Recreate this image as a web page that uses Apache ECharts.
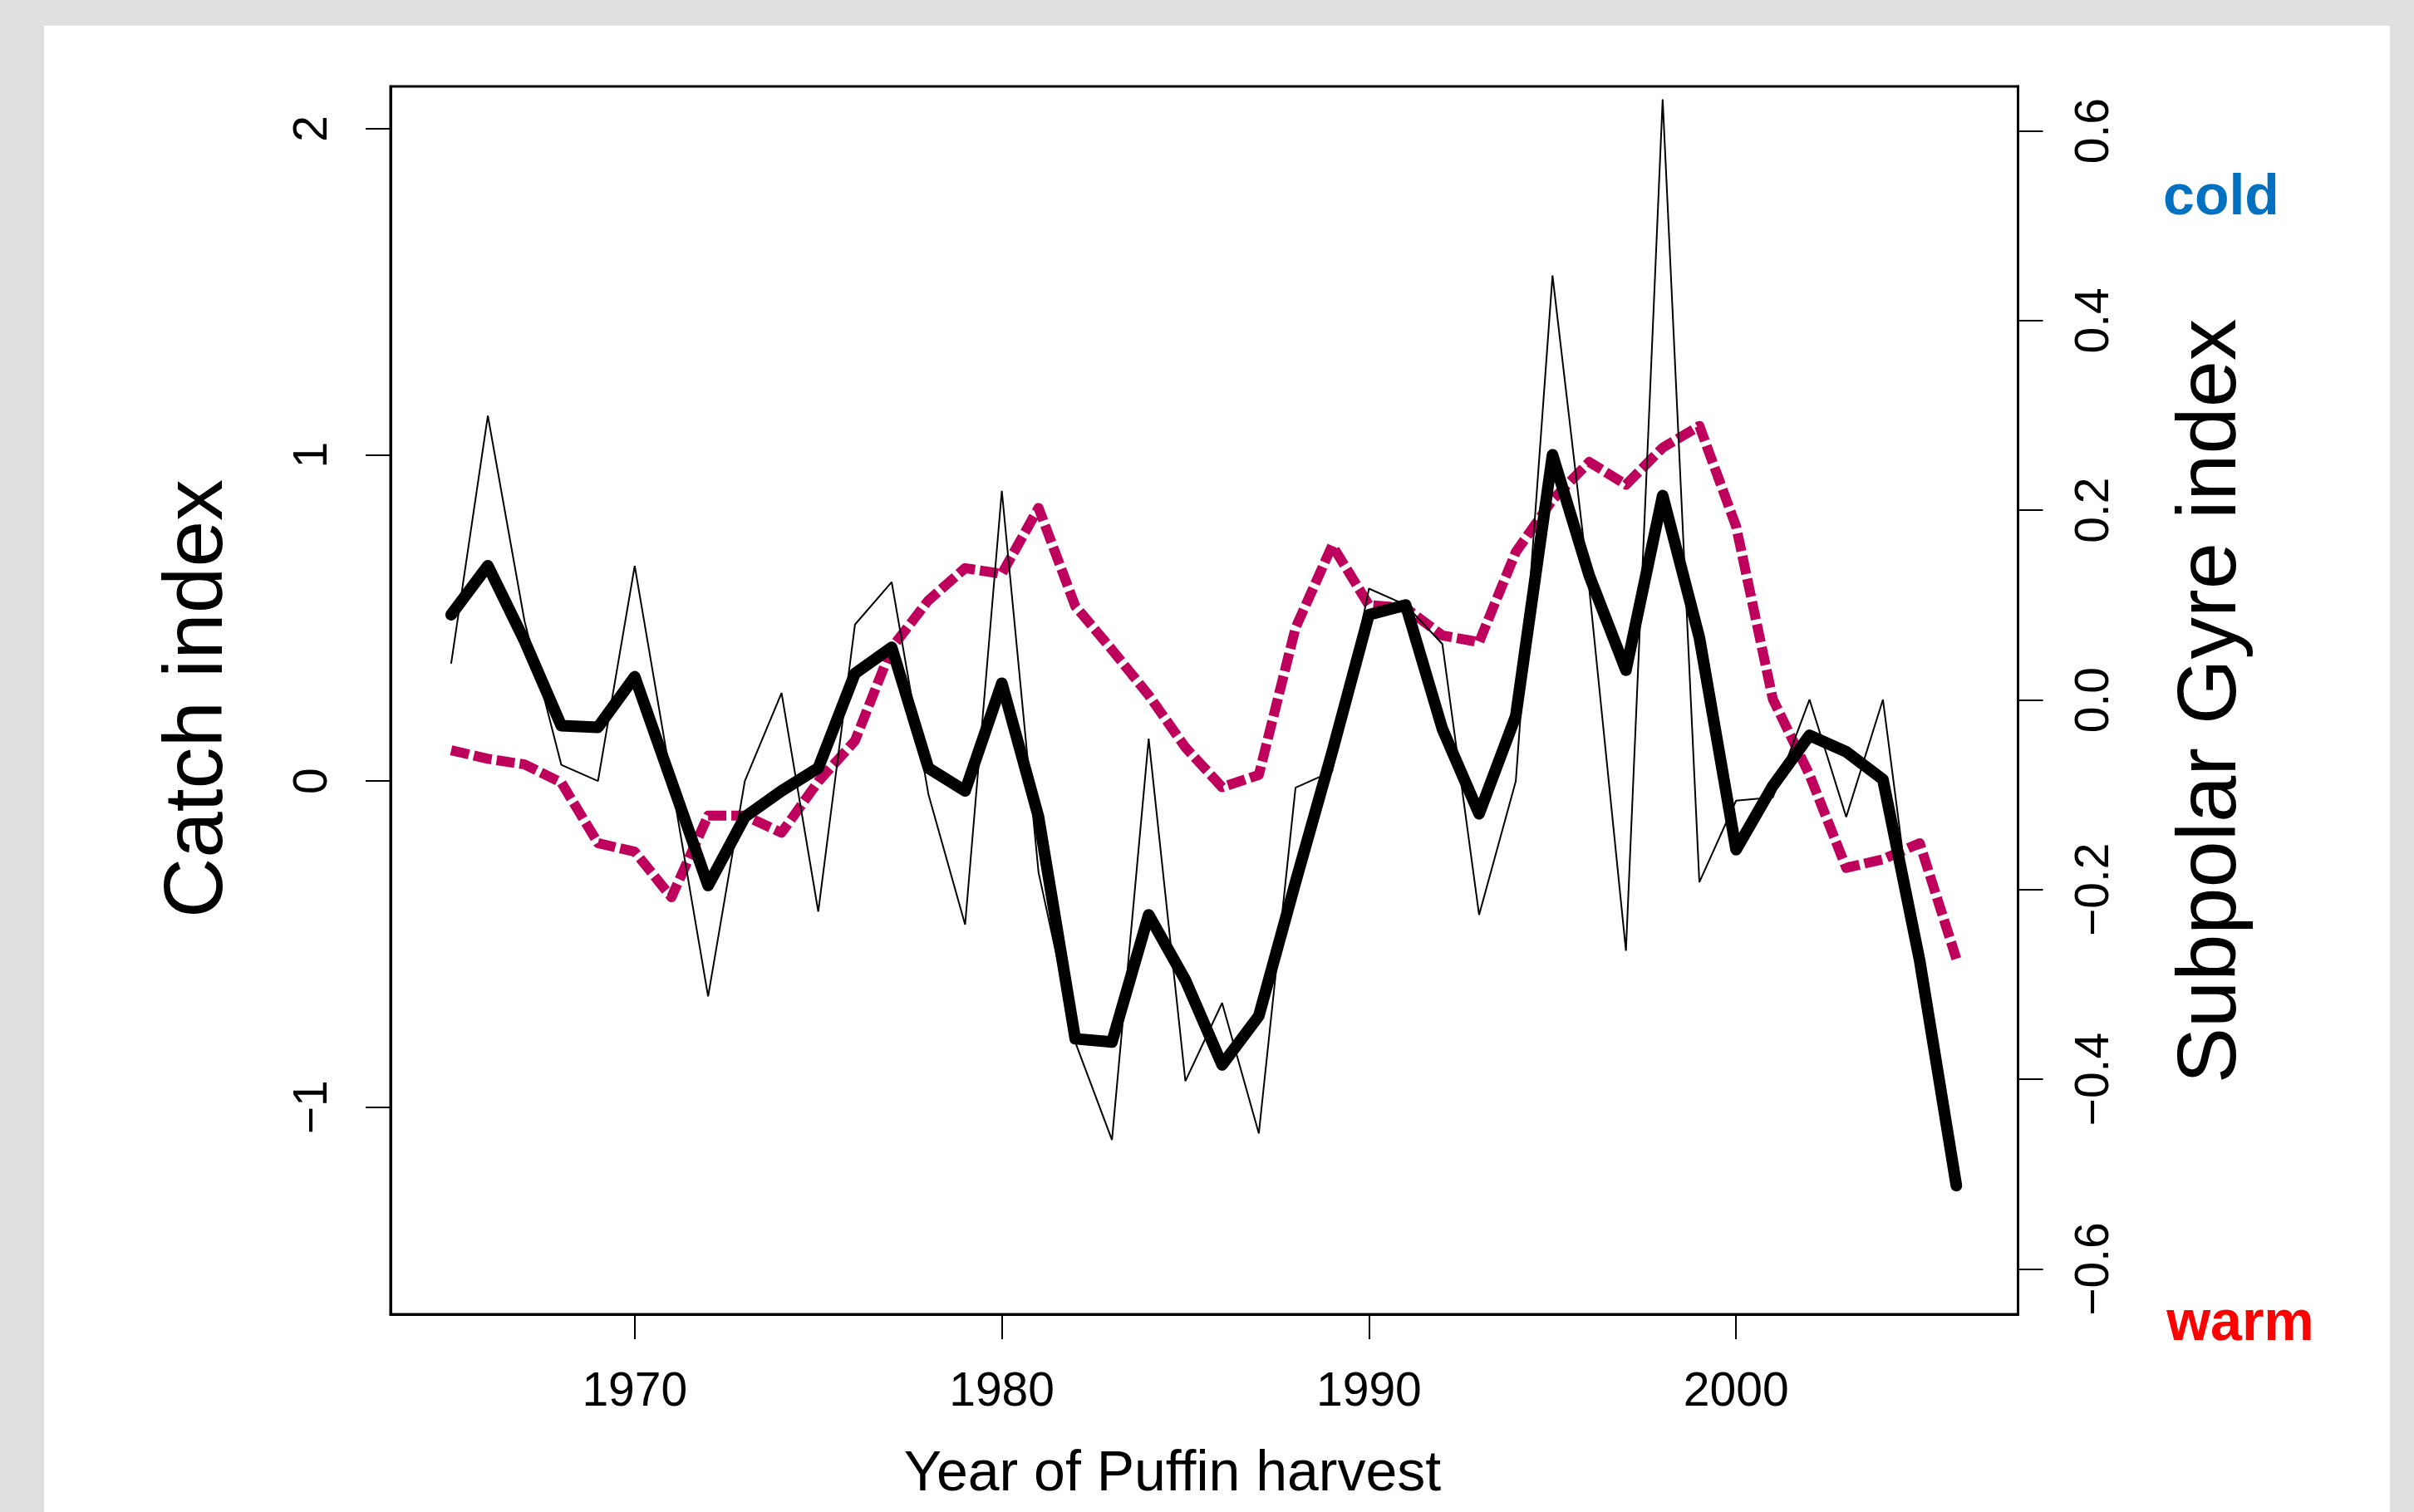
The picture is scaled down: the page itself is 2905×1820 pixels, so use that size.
<!DOCTYPE html>
<html><head><meta charset="utf-8">
<script src="https://cdn.jsdelivr.net/npm/echarts@6/dist/echarts.min.js"></script>
<style>
html,body{margin:0;padding:0;background:#e0e0e0;width:2905px;height:1820px;overflow:hidden}
#panel{position:absolute;left:53px;top:31px;width:2823px;height:1789px;background:#fff}
#chart{position:absolute;left:0;top:0;width:2905px;height:1820px}
</style></head><body><div id="panel"></div><div id="chart"></div>
<script>
const years = [1965,1966,1967,1968,1969,1970,1971,1972,1973,1974,1975,1976,1977,1978,1979,1980,1981,1982,1983,1984,1985,1986,1987,1988,1989,1990,1991,1992,1993,1994,1995,1996,1997,1998,1999,2000,2001,2002,2003,2004,2005,2006];
const catchRaw = [0.36,1.12,0.49,0.05,0.00,0.66,0.00,-0.66,0.00,0.27,-0.40,0.48,0.61,-0.04,-0.44,0.89,-0.28,-0.80,-1.10,0.13,-0.92,-0.68,-1.08,-0.02,0.03,0.59,0.54,0.42,-0.41,0.00,1.55,0.59,-0.52,2.09,-0.31,-0.06,-0.05,0.25,-0.11,0.25,-0.62,-1.24];
const catchSmooth = [0.51,0.66,0.43,0.17,0.165,0.32,0.00,-0.32,-0.11,-0.03,0.04,0.33,0.41,0.04,-0.03,0.30,-0.11,-0.79,-0.80,-0.41,-0.61,-0.87,-0.72,-0.31,0.09,0.51,0.54,0.16,-0.10,0.20,1.00,0.63,0.34,0.875,0.44,-0.21,-0.015,0.14,0.09,0.005,-0.55,-1.24];
const spgIndex = [-0.053,-0.062,-0.068,-0.087,-0.151,-0.160,-0.208,-0.122,-0.122,-0.140,-0.086,-0.043,0.055,0.105,0.139,0.133,0.2025,0.099,0.053,0.005,-0.050,-0.092,-0.079,0.076,0.163,0.100,0.097,0.068,0.061,0.156,0.211,0.251,0.227,0.266,0.289,0.183,0.001,-0.079,-0.177,-0.168,-0.151,-0.273];
const xTicks = [1970,1980,1990,2000];
const leftTicks = [-1,0,1,2];
const rightTicks = [-0.6,-0.4,-0.2,0,0.2,0.4,0.6];

const FONT = "'Liberation Sans', Arial, Helvetica, sans-serif";
const fmtMinus = (s) => s.replace('-', '\u2212');

const chart = echarts.init(document.getElementById('chart'), null, {renderer: 'canvas'});
const pair = (arr) => years.map((y, i) => [y, arr[i]]);

const option = {
  animation: false,
  backgroundColor: 'transparent',
  grid: {
    left: 470, top: 104, right: 2905 - 2428.5, bottom: 1820 - 1582,
    show: true, borderColor: '#000', borderWidth: 3, backgroundColor: 'transparent'
  },
  xAxis: {
    type: 'value', min: 1963.35, max: 2007.68,
    axisLine: {show: true, onZero: false, lineStyle: {color: '#000', width: 3}},
    axisTick: {show: true, length: 30, customValues: xTicks, lineStyle: {color: '#000', width: 2}},
    axisLabel: {customValues: xTicks, fontSize: 57, fontFamily: FONT, color: '#000', margin: 66,
      formatter: (v) => String(Math.round(v))},
    splitLine: {show: false}
  },
  yAxis: [
    {
      type: 'value', position: 'left', min: -1.6345, max: 2.1296,
      axisLine: {show: true, onZero: false, lineStyle: {color: '#000', width: 3}},
      axisTick: {show: true, length: 30, customValues: leftTicks, lineStyle: {color: '#000', width: 2}},
      axisLabel: {customValues: leftTicks, rotate: 90, fontSize: 57, fontFamily: FONT, color: '#000', margin: 64,
        formatter: (v) => fmtMinus(String(Math.round(v)))},
      splitLine: {show: false}
    },
    {
      type: 'value', position: 'right', min: -0.6478, max: 0.647,
      axisLine: {show: true, onZero: false, lineStyle: {color: '#000', width: 3}},
      axisTick: {show: true, length: 30, customValues: rightTicks, lineStyle: {color: '#000', width: 2}},
      axisLabel: {customValues: rightTicks, rotate: 90, fontSize: 57, fontFamily: FONT, color: '#000', margin: 64,
        formatter: (v) => fmtMinus((Math.round(v * 10) / 10).toFixed(1)).replace('\u22120.0', '0.0')},
      splitLine: {show: false}
    }
  ],
  series: [
    {
      name: 'Subpolar Gyre index', type: 'line', yAxisIndex: 1, data: pair(spgIndex),
      symbol: 'none', z: 2,
      lineStyle: {color: '#BE005C', width: 12, type: [22, 6], cap: 'butt', join: 'round'}
    },
    {
      name: 'Catch index', type: 'line', yAxisIndex: 0, data: pair(catchRaw),
      symbol: 'none', z: 3,
      lineStyle: {color: '#000', width: 2}
    },
    {
      name: 'Catch index (smoothed)', type: 'line', yAxisIndex: 0, data: pair(catchSmooth),
      symbol: 'none', z: 4,
      lineStyle: {color: '#000', width: 14, cap: 'round', join: 'round'}
    }
  ],
  graphic: [
    {type: 'text', x: 239, y: 841, rotation: Math.PI / 2,
      style: {text: 'Catch index', font: "100px " + FONT, fill: '#000', align: 'center', verticalAlign: 'middle'}},
    {type: 'text', x: 2662, y: 844, rotation: Math.PI / 2,
      style: {text: 'Subpolar Gyre index', font: "101px " + FONT, fill: '#000', align: 'center', verticalAlign: 'middle'}},
    {type: 'text', x: 1411, y: 1775,
      style: {text: 'Year of Puffin harvest', font: "68px " + FONT, fill: '#000', align: 'center', verticalAlign: 'middle'}},
    {type: 'text', x: 2673, y: 239,
      style: {text: 'cold', font: "bold 68px " + FONT, fill: '#0070C0', align: 'center', verticalAlign: 'middle'}},
    {type: 'text', x: 2696, y: 1594,
      style: {text: 'warm', font: "bold 68px " + FONT, fill: '#FF0000', align: 'center', verticalAlign: 'middle'}}
  ]
};
chart.setOption(option);
</script></body></html>
